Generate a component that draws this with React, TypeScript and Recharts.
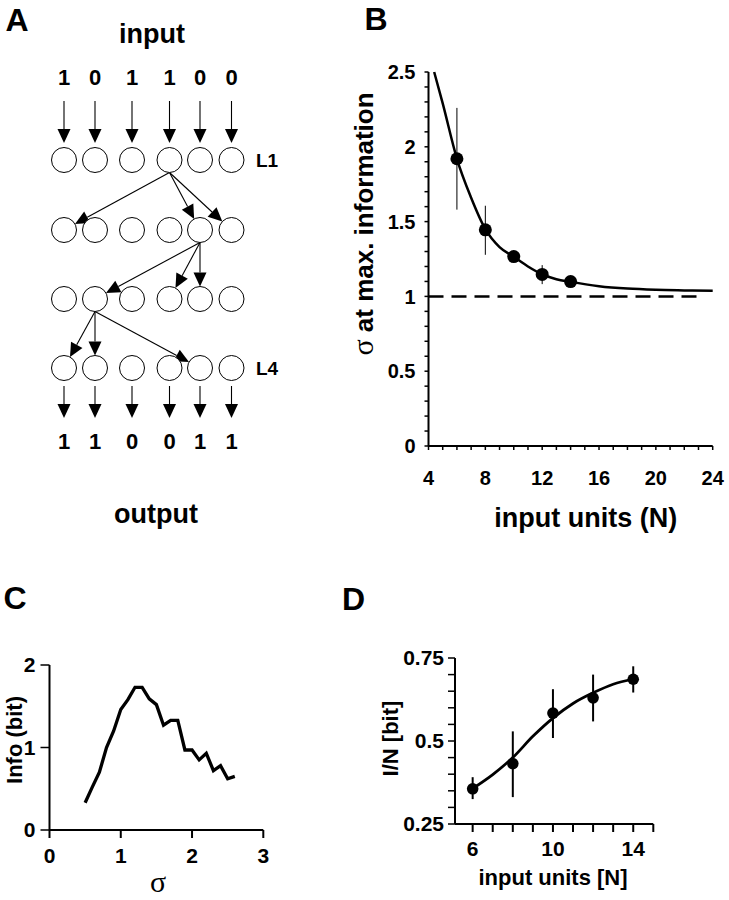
import React from 'react';
import {
  ComposedChart, ScatterChart, Line, Scatter, XAxis, YAxis, ErrorBar, ReferenceLine, Label,
} from 'recharts';

const FONT = '"Liberation Sans", Arial, sans-serif';
const SERIF = '"Liberation Serif", "DejaVu Serif", serif';

// ---------- Panel A (network diagram) ----------
const inputBits = [1, 0, 1, 1, 0, 0];
const outputBits = [1, 1, 0, 0, 1, 1];
const layerLabels = ['L1', '', '', 'L4'];
// [fromLayer, fromUnit, toLayer, toUnit]
const connections = [
  [0, 3, 1, 0], [0, 3, 1, 4], [0, 3, 1, 5],
  [1, 4, 2, 1], [1, 4, 2, 3], [1, 4, 2, 4],
  [2, 1, 3, 0], [2, 1, 3, 1], [2, 1, 3, 4],
];

// ---------- Panel B ----------
const bCurveN = [4.4, 5, 6, 7, 8, 9, 10, 11, 12, 13, 14, 16, 18, 20, 22, 24];
const bCurveSigma = [2.5, 2.29, 1.92, 1.66, 1.45, 1.33, 1.265, 1.2, 1.148, 1.115, 1.097, 1.068, 1.052, 1.044, 1.04, 1.037];
const bPointN = [6, 8, 10, 12, 14];
const bPointSigma = [1.92, 1.445, 1.266, 1.147, 1.099];
const bErrLow = [0.34, 0.167, 0.03, 0.065, 0.015];
const bErrHigh = [0.34, 0.161, 0.03, 0.062, 0.015];
const bRefSigma = 1;
const bRefEndN = 23.3;
const bXTicks = [4, 5, 6, 7, 8, 9, 10, 11, 12, 13, 14, 15, 16, 17, 18, 19, 20, 21, 22, 23, 24];
const bYTicks = [0, 0.1, 0.2, 0.3, 0.4, 0.5, 0.6, 0.7, 0.8, 0.9, 1, 1.1, 1.2, 1.3, 1.4, 1.5, 1.6, 1.7, 1.8, 1.9, 2, 2.1, 2.2, 2.3, 2.4, 2.5];

// ---------- Panel C ----------
const cSigma = [0.5, 0.6, 0.7, 0.8, 0.9, 1.0, 1.1, 1.2, 1.3, 1.4, 1.5, 1.6, 1.7, 1.8, 1.9, 2.0, 2.1, 2.2, 2.3, 2.4, 2.5, 2.6];
const cInfo = [0.33, 0.52, 0.7, 1.0, 1.2, 1.46, 1.58, 1.73, 1.73, 1.59, 1.52, 1.27, 1.33, 1.33, 0.97, 0.97, 0.85, 0.93, 0.72, 0.78, 0.62, 0.65];
const cXTicks = [0, 1, 2, 3];
const cYTicks = [0, 1, 2];

// ---------- Panel D ----------
const dCurveN = [6, 7, 8, 9, 10, 11, 12, 13, 14];
const dCurveIN = [0.357, 0.399, 0.45, 0.514, 0.569, 0.613, 0.645, 0.671, 0.686];
const dPointN = [6, 8, 10, 12, 14];
const dPointIN = [0.356, 0.432, 0.584, 0.63, 0.686];
const dErrLow = [0.031, 0.101, 0.075, 0.071, 0.04];
const dErrHigh = [0.035, 0.097, 0.072, 0.07, 0.039];
const dXTicks = [6, 7, 8, 9, 10, 11, 12, 13, 14, 15];
const dYTicks = [0.25, 0.3, 0.35, 0.4, 0.45, 0.5, 0.55, 0.6, 0.65, 0.7, 0.75];

// ---------- layout for diagram (pixel units of panel A) ----------
const colX = [64, 95, 132, 169.5, 200, 231.5];
const rowY = [160, 230, 299, 368];
const R = 12.5;
const HEAD = 14;
const HALF = 6.5;
const inArrowY = [101, 143];
const outArrowY = [386, 418];
const inDigitY = 77;
const outDigitY = 441;

const bCurve = bCurveN.map((x, i) => ({ x, y: bCurveSigma[i] }));
const bPoints = bPointN.map((x, i) => ({ x, y: bPointSigma[i], err: [bErrLow[i], bErrHigh[i]] }));
const cLine = cSigma.map((x, i) => ({ x, y: cInfo[i] }));
const dCurve = dCurveN.map((x, i) => ({ x, y: dCurveIN[i] }));
const dPoints = dPointN.map((x, i) => ({ x, y: dPointIN[i], err: [dErrLow[i], dErrHigh[i]] }));

const circles = rowY.flatMap((y) => colX.map((x) => ({ x, y })));
const inDigits = inputBits.map((v, i) => ({ x: colX[i], y: inDigitY, v }));
const outDigits = outputBits.map((v, i) => ({ x: colX[i], y: outDigitY, v }));

function arrow(sx: number, sy: number, tx: number, ty: number) {
  const dx = tx - sx;
  const dy = ty - sy;
  const L = Math.hypot(dx, dy) || 1;
  const ux = dx / L;
  const uy = dy / L;
  const bx = tx - ux * HEAD;
  const by = ty - uy * HEAD;
  const px = -uy * HALF;
  const py = ux * HALF;
  return (
    <g>
      <line x1={sx} y1={sy} x2={bx} y2={by} stroke="#000" strokeWidth={1.1} />
      <polygon points={`${tx},${ty} ${bx + px},${by + py} ${bx - px},${by - py}`} fill="#000" />
    </g>
  );
}
const StraightArrow = (p: any) => arrow(p.x1, p.y1, p.x2, p.y2);
const LinkArrow = (p: any) => {
  const sx = p.x1;
  const sy = p.y1 + R;
  const dx = p.x2 - sx;
  const dy = p.y2 - sy;
  const L = Math.hypot(dx, dy) || 1;
  return arrow(sx, sy, p.x2 - (dx / L) * R, p.y2 - (dy / L) * R);
};

const txt = (size: number) => ({ fontFamily: FONT, fontWeight: 'bold' as const, fontSize: size, fill: '#000' });

const makeXTick = (size: number, isMajor: (v: number) => boolean) => (p: any) => {
  const v = p.payload.value;
  if (!isMajor(v)) return <g />;
  return (
    <text x={p.x} y={p.y} dy="0.71em" textAnchor="middle" {...txt(size)}>{v}</text>
  );
};
const makeYTick = (size: number, isMajor: (v: number) => boolean) => (p: any) => {
  const v = p.payload.value;
  if (!isMajor(v)) return <g />;
  return (
    <text x={p.x} y={p.y} dy="0.355em" textAnchor="end" {...txt(size)}>{String(v)}</text>
  );
};

const near = (a: number) => Math.abs(a - Math.round(a)) < 1e-6;

const abs = (left: number, top: number): React.CSSProperties => ({ position: 'absolute', left, top });

export default function App() {
  return (
    <div style={{ position: 'absolute', left: 0, top: 0, width: 729, height: 900, background: '#fff', overflow: 'hidden' }}>
      {/* Panel A */}
      <div style={abs(0, 0)}>
        <ScatterChart width={290} height={540} margin={{ top: 0, right: 0, bottom: 0, left: 0 }}>
          <XAxis type="number" dataKey="x" domain={[0, 290]} hide />
          <YAxis type="number" dataKey="y" domain={[0, 540]} reversed hide />
          {colX.map((x, i) => (
            <ReferenceLine key={'in' + i} segment={[{ x, y: inArrowY[0] }, { x, y: inArrowY[1] }]} shape={StraightArrow} />
          ))}
          {colX.map((x, i) => (
            <ReferenceLine key={'out' + i} segment={[{ x, y: outArrowY[0] }, { x, y: outArrowY[1] }]} shape={StraightArrow} />
          ))}
          {connections.map(([fl, fu, tl, tu], i) => (
            <ReferenceLine
              key={'c' + i}
              segment={[{ x: colX[fu], y: rowY[fl] }, { x: colX[tu], y: rowY[tl] }]}
              shape={LinkArrow}
            />
          ))}
          <Scatter
            data={circles}
            isAnimationActive={false}
            shape={(p: any) => <circle cx={p.cx} cy={p.cy} r={R} fill="#fff" stroke="#000" strokeWidth={1} />}
          />
          <Scatter
            data={inDigits}
            isAnimationActive={false}
            shape={(p: any) => (
              <text x={p.cx} y={p.cy} textAnchor="middle" dominantBaseline="central" {...txt(22)}>{p.payload.v}</text>
            )}
          />
          <Scatter
            data={outDigits}
            isAnimationActive={false}
            shape={(p: any) => (
              <text x={p.cx} y={p.cy} textAnchor="middle" dominantBaseline="central" {...txt(22)}>{p.payload.v}</text>
            )}
          />
        </ScatterChart>
      </div>

      {/* Panel B */}
      <div style={abs(340, 0)}>
        <ComposedChart width={389} height={540} margin={{ top: 72, right: 16.3, bottom: 0, left: 0 }}>
          <XAxis
            type="number"
            dataKey="x"
            domain={[4, 24]}
            ticks={bXTicks}
            interval={0}
            height={94}
            tickSize={4}
            tickMargin={21}
            axisLine={{ stroke: '#000', strokeWidth: 2 }}
            tickLine={{ stroke: '#000', strokeWidth: 1.5 }}
            tick={makeXTick(20, (v) => v % 4 === 0)}
          >
            <Label
              content={() => (
                <text x={245.8} y={518} textAnchor="middle" dominantBaseline="central" {...txt(27)}>input units (N)</text>
              )}
            />
          </XAxis>
          <YAxis
            type="number"
            domain={[0, 2.5]}
            ticks={bYTicks}
            interval={0}
            width={88.5}
            tickSize={4}
            tickMargin={9}
            axisLine={{ stroke: '#000', strokeWidth: 2 }}
            tickLine={{ stroke: '#000', strokeWidth: 1.5 }}
            tick={makeYTick(20, (v) => near(v * 2))}
          >
            <Label
              content={() => (
                <text x={33} y={224} textAnchor="middle" transform="rotate(-90 33 224)" {...txt(26)}>
                  <tspan fontFamily={SERIF} fontWeight="normal" fontSize={30}>σ</tspan> at max. information
                </text>
              )}
            />
          </YAxis>
          <ReferenceLine
            segment={[{ x: 4, y: bRefSigma }, { x: bRefEndN, y: bRefSigma }]}
            stroke="#000"
            strokeWidth={2.5}
            strokeDasharray="15 8"
          />
          <Line data={bCurve} dataKey="y" type="monotone" stroke="#000" strokeWidth={2.5} dot={false} isAnimationActive={false} />
          <Scatter
            data={bPoints}
            dataKey="y"
            isAnimationActive={false}
            shape={(p: any) => <circle cx={p.cx} cy={p.cy} r={6.5} fill="#000" />}
          >
            <ErrorBar dataKey="err" direction="y" width={0} stroke="#000" strokeWidth={1} />
          </Scatter>
        </ComposedChart>
      </div>

      {/* Panel C */}
      <div style={abs(0, 600)}>
        <ComposedChart width={300} height={300} margin={{ top: 65, right: 36.7, bottom: 0, left: 0 }}>
          <XAxis
            type="number"
            dataKey="x"
            domain={[0, 3]}
            ticks={cXTicks}
            interval={0}
            height={70}
            tickSize={8}
            tickMargin={10}
            axisLine={{ stroke: '#000', strokeWidth: 2 }}
            tickLine={{ stroke: '#000', strokeWidth: 2 }}
            tick={makeXTick(21, () => true)}
          >
            <Label
              content={() => (
                <text x={158} y={281} textAnchor="middle" dominantBaseline="central" fontFamily={SERIF} fontSize={30} fill="#000">σ</text>
              )}
            />
          </XAxis>
          <YAxis
            type="number"
            domain={[0, 2]}
            ticks={cYTicks}
            interval={0}
            width={49.5}
            tickSize={9}
            tickMargin={5}
            axisLine={{ stroke: '#000', strokeWidth: 2 }}
            tickLine={{ stroke: '#000', strokeWidth: 1.5 }}
            tick={makeYTick(21, () => true)}
          >
            <Label
              content={() => (
                <text x={21.7} y={140} textAnchor="middle" transform="rotate(-90 21.7 140)" {...txt(22)}>Info (bit)</text>
              )}
            />
          </YAxis>
          <Line data={cLine} dataKey="y" type="linear" stroke="#000" strokeWidth={3.3} dot={false} isAnimationActive={false} />
        </ComposedChart>
      </div>

      {/* Panel D */}
      <div style={abs(330, 600)}>
        <ComposedChart width={399} height={300} margin={{ top: 58, right: 75.7, bottom: 0, left: 0 }}>
          <XAxis
            type="number"
            dataKey="x"
            domain={[5.12, 15]}
            ticks={dXTicks}
            interval={0}
            height={76}
            tickSize={8}
            tickMargin={9}
            axisLine={{ stroke: '#000', strokeWidth: 2 }}
            tickLine={{ stroke: '#000', strokeWidth: 2 }}
            tick={makeXTick(21, (v) => v === 6 || v === 10 || v === 14)}
          >
            <Label
              content={() => (
                <text x={223} y={277} textAnchor="middle" dominantBaseline="central" {...txt(22)}>input units [N]</text>
              )}
            />
          </XAxis>
          <YAxis
            type="number"
            domain={[0.25, 0.75]}
            ticks={dYTicks}
            interval={0}
            width={125}
            tickSize={7}
            tickMargin={4}
            axisLine={{ stroke: '#000', strokeWidth: 2 }}
            tickLine={{ stroke: '#000', strokeWidth: 1.5 }}
            tick={makeYTick(21, (v) => near(v * 4))}
          >
            <Label
              content={() => (
                <text x={68} y={138.5} textAnchor="middle" transform="rotate(-90 68 138.5)" {...txt(22)}>I/N [bit]</text>
              )}
            />
          </YAxis>
          <Line data={dCurve} dataKey="y" type="monotone" stroke="#000" strokeWidth={2.8} dot={false} isAnimationActive={false} />
          <Scatter
            data={dPoints}
            dataKey="y"
            isAnimationActive={false}
            shape={(p: any) => <circle cx={p.cx} cy={p.cy} r={5.8} fill="#000" />}
          >
            <ErrorBar dataKey="err" direction="y" width={0} stroke="#000" strokeWidth={2} />
          </Scatter>
        </ComposedChart>
      </div>

      {/* Panel letters and diagram captions */}
      <svg width={729} height={900} style={{ position: 'absolute', left: 0, top: 0, pointerEvents: 'none' }}>
        <text x={17} y={20} textAnchor="middle" dominantBaseline="central" {...txt(32)}>A</text>
        <text x={376} y={19} textAnchor="middle" dominantBaseline="central" {...txt(32)}>B</text>
        <text x={15} y={598} textAnchor="middle" dominantBaseline="central" {...txt(32)}>C</text>
        <text x={353.5} y={599} textAnchor="middle" dominantBaseline="central" {...txt(32)}>D</text>
        <text x={152} y={34} textAnchor="middle" dominantBaseline="central" {...txt(27)}>input</text>
        <text x={156} y={514} textAnchor="middle" dominantBaseline="central" {...txt(27)}>output</text>
        {layerLabels.map((l, i) => l ? (
          <text key={l} x={256} y={rowY[i]} dominantBaseline="central" {...txt(19)}>{l}</text>
        ) : null)}
      </svg>
    </div>
  );
}
